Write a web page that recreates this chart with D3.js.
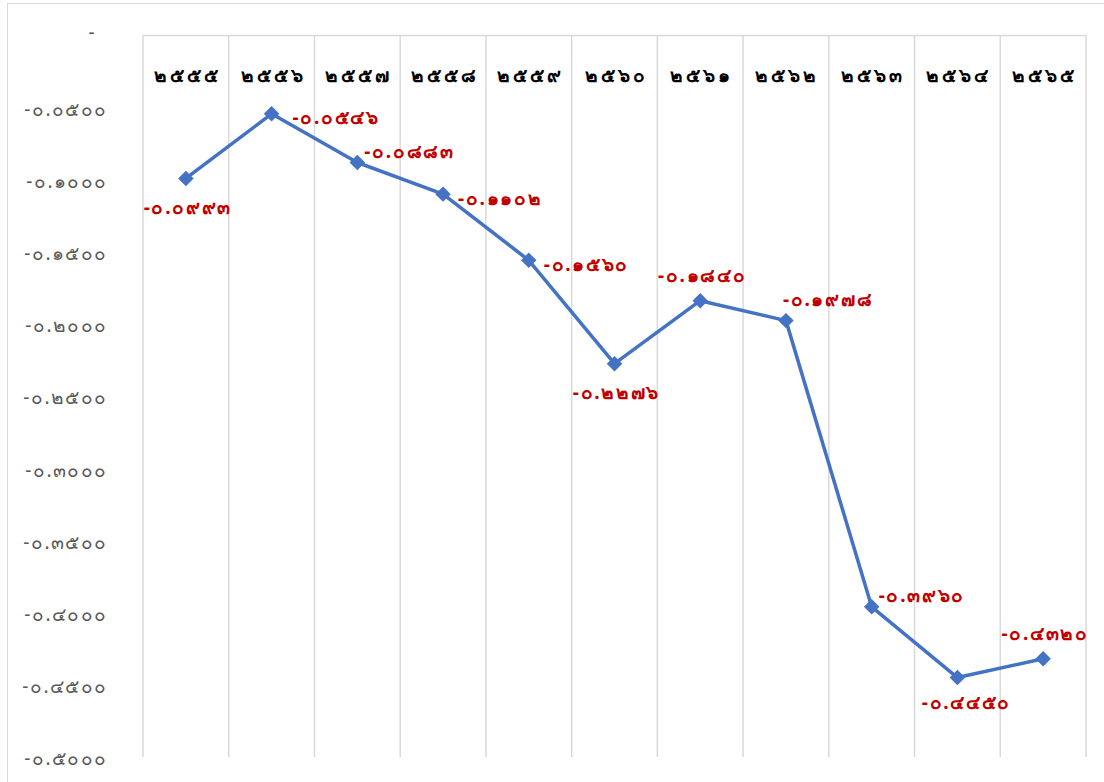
<!DOCTYPE html>
<html>
<head>
<meta charset="utf-8">
<script src="https://cdn.jsdelivr.net/npm/d3@7"></script>
<style>
  html, body { margin: 0; padding: 0; background: #fff; }
  svg { display: block; }
  text { font-family: "Noto Sans", "DejaVu Sans", "Liberation Sans", sans-serif; }
</style>
</head>
<body>
<svg id="chart" width="1104" height="782"></svg>
<script>
// Years (Buddhist era, Thai digits)
const years = ["๒๕๕๕", "๒๕๕๖", "๒๕๕๗", "๒๕๕๘", "๒๕๕๙", "๒๕๖๐", "๒๕๖๑", "๒๕๖๒", "๒๕๖๓", "๒๕๖๔", "๒๕๖๕"];
// Series values
const values = [-0.0993, -0.0546, -0.0883, -0.1102, -0.1560, -0.2276, -0.1840, -0.1978, -0.3960, -0.4450, -0.4320];
// Value-axis ticks
const yTicks = [0, -0.05, -0.10, -0.15, -0.20, -0.25, -0.30, -0.35, -0.40, -0.45, -0.50];
// Where each value label sits relative to its point
const labelSide = ["below", "rightFar", "rightUp", "right", "right", "below", "above", "aboveRight", "rightUp", "belowRight", "above"];

const thaiDigits = "๐๑๒๓๔๕๖๗๘๙";
const toThai = s => s.replace(/[0-9]/g, d => thaiDigits[+d]);
const fmt = v => v === 0 ? "-" : toThai(d3.format(".4f")(v).replace("−", "-"));

const svg = d3.select("#chart");
const margin = { left: 143, right: 1086, top: 35, bottom: 757 };

// Outer chart frame
svg.append("rect")
  .attr("x", 7.5).attr("y", 3.5)
  .attr("width", 1104).attr("height", 790)
  .attr("fill", "none").attr("stroke", "#d9d9d9").attr("stroke-width", 1);

const x = d3.scaleBand().domain(years).range([margin.left, margin.right]).padding(0);
const y = d3.scaleLinear().domain([0, -0.5]).range([margin.top, margin.bottom]);

// Vertical gridlines at category boundaries
const bounds = years.map(d => x(d)).concat([x(years[years.length - 1]) + x.bandwidth()]);
svg.append("g").selectAll("line").data(bounds).join("line")
  .attr("x1", d => d).attr("x2", d => d)
  .attr("y1", y(0)).attr("y2", y(-0.5))
  .attr("stroke", "#d9d9d9").attr("stroke-width", 1.5);

// Category axis sits at value 0 (top)
const xAxis = svg.append("g")
  .attr("transform", `translate(0,${y(0)})`)
  .call(d3.axisTop(x).tickSize(0).tickFormat(d => d));
xAxis.select(".domain").attr("stroke", "#d9d9d9").attr("stroke-width", 1.5);
xAxis.selectAll("text")
  .attr("x", 1.5)
  .attr("y", 40).attr("dy", "0.35em")
  .attr("font-size", 19).attr("letter-spacing", 3)
  .attr("font-weight", "bold").attr("fill", "#000");

// Value axis labels
const yAxis = svg.append("g")
  .attr("transform", `translate(108,0)`)
  .call(d3.axisLeft(y).tickValues(yTicks).tickSize(0).tickFormat(fmt));
yAxis.select(".domain").remove();
yAxis.selectAll("text")
  .attr("x", 0).attr("dy", "0.42em")
  .attr("font-size", 19).attr("letter-spacing", 1.5).attr("fill", "#595959")
  .filter(d => d === 0).attr("x", -12).attr("dy", "0.2em");

const cx = i => x(years[i]) + x.bandwidth() / 2;

// Series line
svg.append("path")
  .datum(values)
  .attr("fill", "none").attr("stroke", "#4472c4").attr("stroke-width", 3.5)
  .attr("stroke-linejoin", "round")
  .attr("d", d3.line().x((d, i) => cx(i)).y(d => y(d)));

// Diamond markers
svg.append("g").selectAll("path").data(values).join("path")
  .attr("d", d3.symbol().type(d3.symbolSquare).size(120))
  .attr("transform", (d, i) => `translate(${cx(i)},${y(d)}) rotate(45)`)
  .attr("fill", "#4472c4");

// Value labels
const place = {
  right:      { dx: 15, dy: 4,   anchor: "start" },
  rightFar:   { dx: 21, dy: 4,   anchor: "start" },
  rightUp:    { dx: 7,  dy: -11, anchor: "start" },
  aboveRight: { dx: -3, dy: -21, anchor: "start" },
  below:      { dx: 2,  dy: 29,  anchor: "middle" },
  belowRight: { dx: 9,  dy: 25,  anchor: "middle" },
  above:      { dx: 2,  dy: -25, anchor: "middle" }
};
svg.append("g").selectAll("text").data(values).join("text")
  .attr("x", (d, i) => cx(i) + place[labelSide[i]].dx)
  .attr("y", (d, i) => y(d) + place[labelSide[i]].dy)
  .attr("dy", "0.35em")
  .attr("text-anchor", (d, i) => place[labelSide[i]].anchor)
  .attr("font-size", 19).attr("letter-spacing", 1.7)
  .attr("font-weight", "bold").attr("fill", "#c00000")
  .text(d => fmt(d));
</script>
</body>
</html>
